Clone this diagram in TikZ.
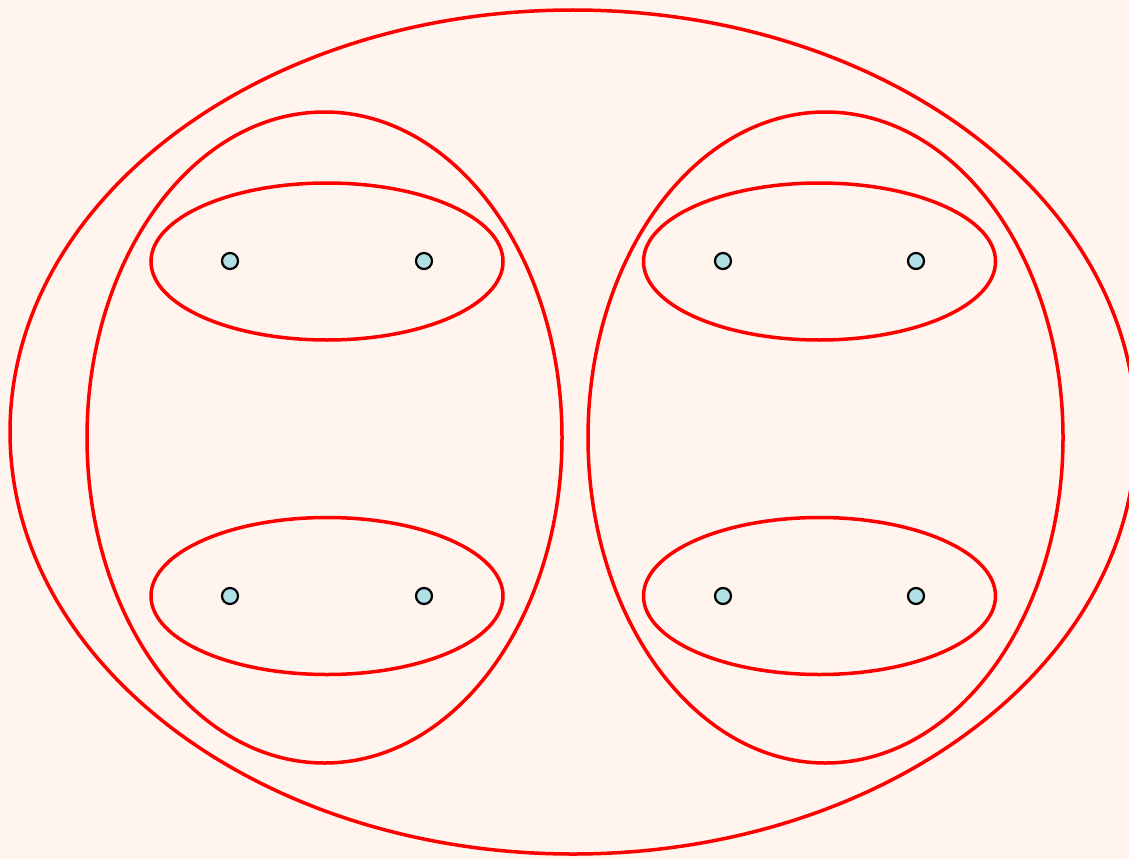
\documentclass[tikz,border=0pt]{standalone}
\definecolor{bg}{HTML}{FFF5EE}
\definecolor{dotfill}{HTML}{B0E0E6}
\tikzset{
  setline/.style={draw=red, line width=3.5pt},
  pt/.style={circle, draw=black, line width=2.2pt, fill=dotfill, minimum size=16pt, inner sep=0pt}
}
\begin{document}
\begin{tikzpicture}[x=1pt,y=-1pt]
\useasboundingbox (0,0) rectangle (1129,859);
\fill[bg] (0,0) rectangle (1129,859);
\clip (0,0) rectangle (1129,859);
\draw[setline] (573,432) ellipse [x radius=563, y radius=422];
\draw[setline] (324.5,437.5) ellipse [x radius=237.5, y radius=325.5];
\draw[setline] (825.5,437.5) ellipse [x radius=237.5, y radius=325.5];
\draw[setline] (327,261.5) ellipse [x radius=176, y radius=78.5];
\draw[setline] (327,596) ellipse [x radius=176, y radius=78.5];
\draw[setline] (819.5,261.5) ellipse [x radius=176, y radius=78.5];
\draw[setline] (819.5,596) ellipse [x radius=176, y radius=78.5];
\node[pt] (a1) at (230,261) {};
\node[pt] (a2) at (424,261) {};
\node[pt] (b1) at (723,261) {};
\node[pt] (b2) at (916,261) {};
\node[pt] (c1) at (230,596) {};
\node[pt] (c2) at (424,596) {};
\node[pt] (d1) at (723,596) {};
\node[pt] (d2) at (916,596) {};
\end{tikzpicture}
\end{document}
